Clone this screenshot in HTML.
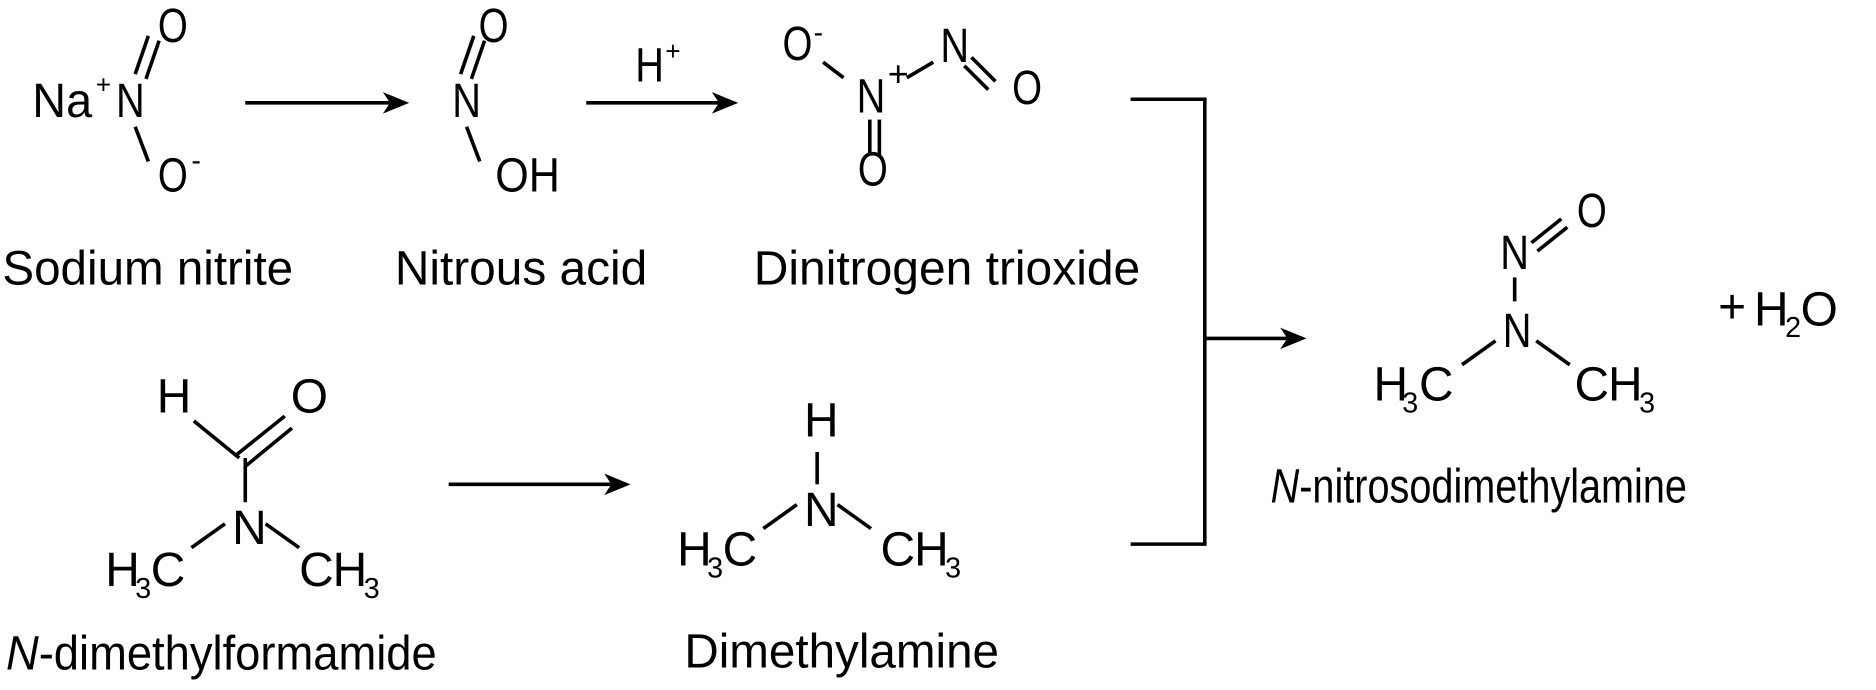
<!DOCTYPE html>
<html><head><meta charset="utf-8"><style>
html,body{margin:0;padding:0;background:#fff;}
svg{display:block;}
text{font-family:"Liberation Sans",Arial,sans-serif;fill:#000;}
</style></head><body>
<svg width="1876" height="690" viewBox="0 0 1568 577" preserveAspectRatio="none" xmlns="http://www.w3.org/2000/svg">
<g stroke="#000" stroke-width="3" fill="none">
<line x1="113" y1="62" x2="124" y2="30"/><line x1="122" y1="66" x2="133" y2="34"/>
<line x1="113" y1="106" x2="124" y2="135"/>
<line x1="385" y1="62" x2="396" y2="30"/><line x1="394" y1="66" x2="405" y2="34"/>
<line x1="390" y1="106" x2="401" y2="135"/>
<line x1="688" y1="52" x2="705" y2="65"/>
<line x1="727" y1="100" x2="727" y2="130"/><line x1="735" y1="100" x2="735" y2="130"/>
<line x1="758" y1="65" x2="780" y2="52"/>
<line x1="812" y1="48" x2="832" y2="68"/><line x1="806" y1="55" x2="826" y2="75"/>
<line x1="1280" y1="203" x2="1305" y2="183"/><line x1="1285" y1="210" x2="1310" y2="190"/>
<line x1="1266" y1="232" x2="1266" y2="252"/>
<line x1="1222" y1="305" x2="1250" y2="285"/><line x1="1284" y1="285" x2="1312" y2="305"/>
<line x1="162" y1="352" x2="200" y2="383"/>
<line x1="198" y1="380" x2="238" y2="348"/><line x1="205" y1="390" x2="244" y2="358"/>
<line x1="205" y1="383" x2="205" y2="420"/>
<line x1="160" y1="458" x2="188" y2="438"/><line x1="222" y1="438" x2="250" y2="458"/>
<line x1="683" y1="378" x2="683" y2="405"/>
<line x1="638" y1="442" x2="666" y2="422"/><line x1="700" y1="422" x2="728" y2="442"/>
<line x1="205" y1="86" x2="330" y2="86"/>
<line x1="490" y1="86" x2="605" y2="86"/>
<line x1="375" y1="405" x2="515" y2="405"/>
<polyline points="945,83 1007,83 1007,455 945,455"/>
<line x1="1007" y1="283" x2="1080" y2="283"/>
</g>
<g fill="#000">
<polygon points="342,86 320,77 326,86 320,95"/>
<polygon points="617,86 595,77 601,86 595,95"/>
<polygon points="527,405 505,396 511,405 505,414"/>
<polygon points="1092,283 1070,274 1076,283 1070,292"/>
</g>
<g font-size="40">
<text x="27" y="98" textLength="50" lengthAdjust="spacingAndGlyphs">Na</text><text x="80" y="78" font-size="22">+</text>
<text x="97" y="98" textLength="24" lengthAdjust="spacingAndGlyphs">N</text>
<text x="132" y="35" textLength="25" lengthAdjust="spacingAndGlyphs">O</text>
<text x="132" y="160" textLength="25" lengthAdjust="spacingAndGlyphs">O</text><text x="160" y="142" font-size="24">-</text>
<text x="378" y="98" textLength="24" lengthAdjust="spacingAndGlyphs">N</text>
<text x="400" y="35" textLength="25" lengthAdjust="spacingAndGlyphs">O</text>
<text x="414" y="160" textLength="54" lengthAdjust="spacingAndGlyphs">OH</text>
<text x="531" y="68" textLength="24" lengthAdjust="spacingAndGlyphs">H</text><text x="556" y="50" font-size="22">+</text>
<text x="654" y="50" textLength="25" lengthAdjust="spacingAndGlyphs">O</text><text x="680" y="35" font-size="24">-</text>
<text x="716" y="94" textLength="24" lengthAdjust="spacingAndGlyphs">N</text><text x="742" y="72" font-size="30">+</text>
<text x="786" y="52" textLength="24" lengthAdjust="spacingAndGlyphs">N</text>
<text x="846" y="87" textLength="25" lengthAdjust="spacingAndGlyphs">O</text>
<text x="717" y="155" textLength="25" lengthAdjust="spacingAndGlyphs">O</text>
<text x="1254" y="225" textLength="24" lengthAdjust="spacingAndGlyphs">N</text>
<text x="1318" y="190" textLength="25" lengthAdjust="spacingAndGlyphs">O</text>
<text x="1256" y="290" textLength="24" lengthAdjust="spacingAndGlyphs">N</text>
<text x="1148" y="335">H</text><text x="1172" y="345" font-size="24">3</text><text x="1186" y="335">C</text>
<text x="1316" y="335">C</text><text x="1344" y="335">H</text><text x="1370" y="345" font-size="24">3</text>
<text x="1436" y="270">+</text>
<text x="1466" y="272">H</text><text x="1492" y="282" font-size="24">2</text><text x="1505" y="272">O</text>
<text x="131" y="345">H</text>
<text x="243" y="345">O</text>
<text x="194" y="455">N</text>
<text x="88" y="490">H</text><text x="113" y="500" font-size="24">3</text><text x="126" y="490">C</text>
<text x="250" y="490">C</text><text x="278" y="490">H</text><text x="304" y="500" font-size="24">3</text>
<text x="672" y="365">H</text>
<text x="672" y="440">N</text>
<text x="566" y="473">H</text><text x="591" y="483" font-size="24">3</text><text x="604" y="473">C</text>
<text x="736" y="473">C</text><text x="764" y="473">H</text><text x="790" y="483" font-size="24">3</text>
</g>
<g font-size="40">
<text x="2" y="238" textLength="243" lengthAdjust="spacingAndGlyphs">Sodium nitrite</text>
<text x="330" y="238" textLength="211" lengthAdjust="spacingAndGlyphs">Nitrous acid</text>
<text x="630" y="238" textLength="323" lengthAdjust="spacingAndGlyphs">Dinitrogen trioxide</text>
<text x="1062" y="420" textLength="348" lengthAdjust="spacingAndGlyphs"><tspan font-style="italic">N</tspan>-nitrosodimethylamine</text>
<text x="5" y="560" textLength="360" lengthAdjust="spacingAndGlyphs"><tspan font-style="italic">N</tspan>-dimethylformamide</text>
<text x="572" y="558" textLength="263" lengthAdjust="spacingAndGlyphs">Dimethylamine</text>
</g>
</svg>
</body></html>
